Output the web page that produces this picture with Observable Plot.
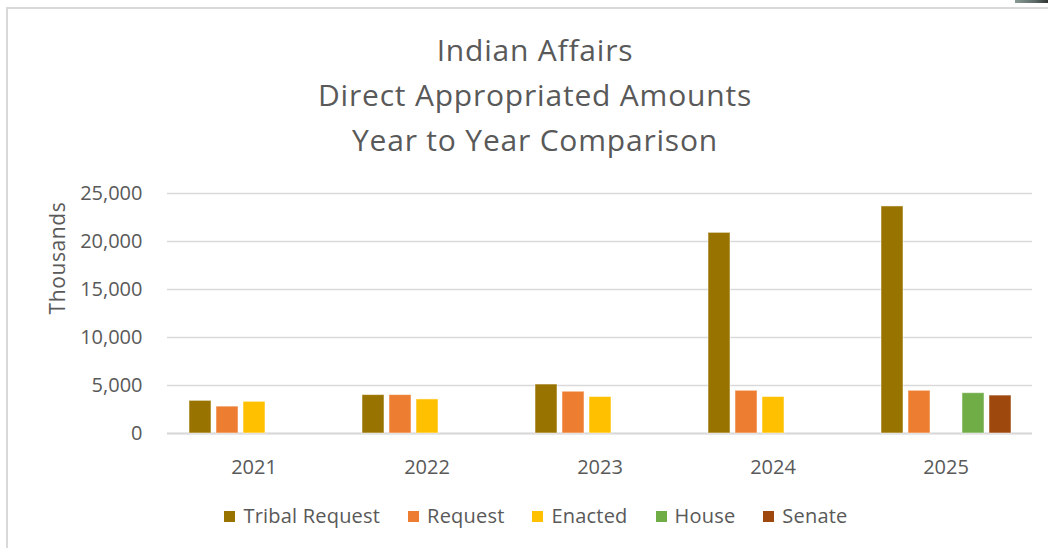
<!DOCTYPE html>
<html><head><meta charset="utf-8">
<script src="https://cdn.jsdelivr.net/npm/d3@7"></script>
<script src="https://cdn.jsdelivr.net/npm/@observablehq/plot@0.6"></script>
<style>
html,body{margin:0;padding:0;background:#fff;overflow:hidden;width:1048px;height:548px}
body{font-family:"Open Sans",sans-serif;color:#595959;position:relative}
#frame{position:absolute;left:6px;top:7px;width:1100px;height:600px;border-left:2px solid #d9d9d9;border-top:2px solid #d9d9d9}
#corner{position:absolute;left:1015px;top:0;width:33px;height:3px;background:linear-gradient(90deg,#8a9a94,#5d6b68 60%,#2f3432)}
#title{position:absolute;left:0;width:1070px;top:27px;text-align:center;font-size:30px;line-height:45px;letter-spacing:0.8px}
#chart{position:absolute;left:0;top:170px}
#ylabel{position:absolute;left:57px;top:258px;transform:translate(-50%,-50%) rotate(-90deg);font-size:21px;letter-spacing:0.6px;white-space:nowrap}
#legend{position:absolute;top:503px;left:0;width:1072px;display:flex;justify-content:center;gap:28px;font-size:20px;line-height:26px;letter-spacing:0.2px}
#legend .item{display:flex;align-items:center;gap:8px}
#legend .sw{width:11px;height:11px;display:inline-block}
</style></head>
<body>
<div id="frame"></div>
<div id="corner"></div>
<div id="title"></div>
<div id="ylabel">Thousands</div>
<div id="chart"></div>
<div id="legend"></div>
<script>
const titleLines = ["Indian Affairs", "Direct Appropriated Amounts", "Year to Year Comparison"];
const years = ["2021", "2022", "2023", "2024", "2025"];
const seriesNames = ["Tribal Request", "Request", "Enacted", "House", "Senate"];
const seriesColors = ["#997300", "#ED7D31", "#FFC000", "#70AD47", "#9E480E"];
const tribalRequest = [3400, 4000, 5100, 20900, 23650];
const request = [2800, 4000, 4350, 4450, 4450];
const enacted = [3300, 3550, 3800, 3800, null];
const house = [null, null, null, null, 4200];
const senate = [null, null, null, null, 3950];
const yTicks = [0, 5000, 10000, 15000, 20000, 25000];

document.getElementById("title").innerHTML = titleLines.map(t => `<div>${t}</div>`).join("");

const seriesValues = [tribalRequest, request, enacted, house, senate];
const data = [];
seriesNames.forEach((s, i) => {
  years.forEach((y, j) => {
    const v = seriesValues[i][j];
    if (v != null) data.push({year: y, series: s, value: v});
  });
});

const chart = Plot.plot({
  width: 1048,
  height: 310,
  marginLeft: 165,
  marginRight: 14,
  marginTop: 23,
  marginBottom: 47,
  style: {fontFamily: "'Open Sans', sans-serif", fontSize: "20px", color: "#595959", background: "transparent"},
  fx: {domain: years, padding: 0, label: null, axis: "bottom", tickSize: 0, tickPadding: 26},
  x: {domain: seriesNames, paddingInner: 0.2, paddingOuter: 0.76, axis: null},
  y: {domain: [0, 25000], ticks: yTicks, tickFormat: d3.format(","), label: null, tickSize: 0, tickPadding: 25},
  color: {domain: seriesNames, range: seriesColors},
  marks: [
    Plot.gridY(yTicks, {stroke: "#d9d9d9", strokeOpacity: 1, strokeWidth: 1.5}),
    Plot.ruleY([0], {stroke: "#d9d9d9", strokeWidth: 2}),
    Plot.barY(data, {fx: "year", x: "series", y: "value", fill: "series", stroke: "#ffffff", strokeOpacity: 0.5, strokeWidth: 1})
  ]
});
document.getElementById("chart").appendChild(chart);

document.getElementById("legend").innerHTML = seriesNames.map((s, i) =>
  `<div class="item"><span class="sw" style="background:${seriesColors[i]}"></span><span>${s}</span></div>`).join("");
</script>
</body></html>
